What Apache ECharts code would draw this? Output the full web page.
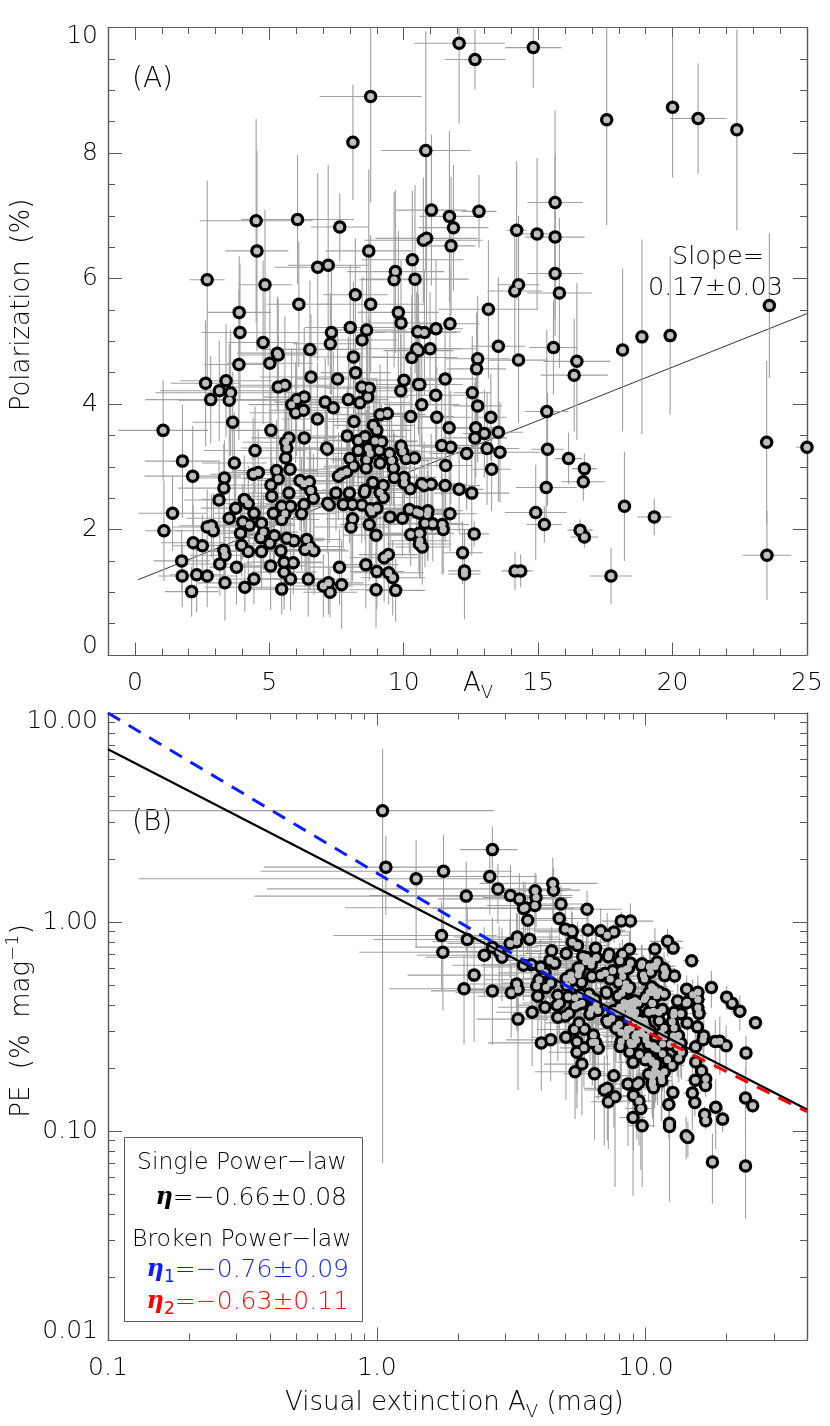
<!DOCTYPE html>
<html><head><meta charset="utf-8">
<style>html,body{margin:0;padding:0;background:#fff}#c{width:830px;height:1426px}</style>
<script src="https://cdn.jsdelivr.net/npm/echarts@6/dist/echarts.min.js"></script>
</head><body><div id="c"></div>
<script>
const avValues=[
2.69,4.51,6.05,7.62,4.54,8.70,8.77,8.11,6.80,7.19,4.84,3.88,3.91,4.77,6.10,8.20,8.77,8.01,8.62,7.31,
7.27,8.45,6.51,5.30,9.69,9.64,10.32,10.42,9.80,9.90,10.48,10.73,10.85,10.52,12.06,12.65,14.82,17.55,20.0,20.95,
22.39,10.82,11.03,11.70,11.85,12.80,11.76,15.63,14.2,14.96,15.63,15.63,15.79,14.27,14.13,13.15,11.72,11.20,10.77,10.98,
13.52,15.57,23.6,18.14,18.86,19.91,12.75,12.71,14.27,16.44,16.34,11.54,12.55,11.19,10.67,10.6,12.75,15.32,11.23,13.24,
11.69,12.68,13.0,13.52,12.65,11.41,11.75,13.10,13.58,12.34,15.35,23.5,25.0,16.13,11.56,13.27,16.72,16.68,15.30,10.67,
11.02,11.54,10.76,12.06,12.53,18.21,14.91,11.72,10.9,10.6,10.88,19.32,15.23,10.79,11.08,11.43,11.47,16.56,16.72,12.62,
10.6,10.6,10.69,12.19,23.51,12.26,12.26,14.14,14.35,17.71,3.87,5.02,5.33,8.13,10.30,10.55,8.21,6.55,7.54,5.33,
5.58,2.63,3.39,3.14,3.56,2.82,3.51,8.44,8.72,10.01,9.89,10.55,5.83,6.02,6.30,5.98,6.27,7.08,7.38,7.94,
8.37,8.66,9.12,9.39,6.79,10.26,8.15,3.64,5.06,1.05,8.87,9.0,5.73,5.61,6.30,7.90,8.56,8.31,8.93,9.18,
5.65,7.13,7.16,4.47,8.31,8.68,8.75,9.09,9.90,9.96,9.47,9.55,10.09,10.40,5.61,1.77,3.70,8.00,8.62,9.12,
8.13,9.62,5.27,5.77,8.60,4.40,4.59,7.88,7.69,7.57,2.15,3.33,5.33,9.65,10.01,6.14,6.49,6.29,10.02,8.85,
5.06,9.24,8.56,3.31,10.24,6.54,8.54,9.12,7.48,7.98,5.73,5.09,6.64,9.24,3.13,4.07,7.17,7.23,6.29,4.22,
7.75,8.09,8.44,5.46,5.79,3.75,8.75,9.0,1.40,4.43,5.15,5.58,6.20,8.81,10.48,10.21,3.51,8.10,9.49,9.95,
5.46,4.01,4.71,4.26,8.72,2.69,2.85,2.92,8.04,1.08,3.93,4.78,5.19,4.68,8.97,10.26,10.57,5.65,5.92,6.39,
5.02,2.17,2.51,3.97,10.58,6.51,3.31,6.33,6.66,4.22,4.71,5.43,3.35,9.43,9.27,1.74,5.55,5.89,3.16,5.05,
8.59,3.78,7.61,5.55,9.0,9.44,1.76,2.30,2.69,9.59,5.79,6.45,4.43,3.35,7.20,7.01,7.69,4.09,5.46,7.26,
2.11,8.97,9.70,25.6];
const polarization=[
5.98,6.92,6.94,6.82,6.44,6.44,8.90,8.17,6.18,6.21,5.90,5.46,5.14,4.98,5.59,5.74,5.59,5.22,5.18,5.14,
4.96,5.02,4.87,4.81,6.11,5.98,6.30,5.99,5.46,5.29,4.88,6.61,6.64,5.15,9.75,9.49,9.68,8.53,8.73,8.55,
8.37,8.04,7.09,6.99,6.81,7.07,6.52,7.21,6.77,6.71,6.66,6.08,5.77,5.90,5.80,5.51,5.28,5.20,5.14,4.88,
4.92,4.90,5.57,4.86,5.07,5.09,4.72,4.56,4.70,4.68,4.46,4.40,4.18,4.14,3.99,4.31,3.97,3.88,3.79,3.79,
3.62,3.62,3.53,3.55,3.46,3.34,3.31,3.29,3.23,3.21,3.28,3.39,3.31,3.13,3.02,2.96,2.97,2.76,2.67,2.73,
2.72,2.70,2.70,2.64,2.58,2.37,2.27,2.25,2.30,2.26,2.24,2.20,2.08,2.10,2.09,2.08,2.00,1.99,1.88,1.93,
1.94,1.82,1.72,1.63,1.59,1.34,1.29,1.34,1.34,1.26,4.63,4.65,4.78,4.75,4.74,4.85,4.50,4.43,4.40,4.27,
4.30,4.33,4.37,4.21,4.18,4.07,4.06,4.27,4.25,4.38,4.21,4.31,3.99,4.07,4.11,3.86,3.90,4.03,3.94,4.07,
4.02,4.11,3.83,3.85,3.76,3.80,3.72,3.71,3.58,3.58,3.66,3.58,3.46,3.39,3.46,3.49,3.48,3.42,3.41,3.40,
3.30,3.30,3.28,3.26,3.26,3.29,3.21,3.26,3.33,3.24,3.21,3.10,3.13,3.14,3.14,3.09,3.06,3.13,3.11,3.06,
3.01,2.98,2.94,2.96,2.98,2.88,2.91,2.92,2.89,2.85,2.85,2.82,2.81,2.83,2.83,2.78,2.76,2.73,2.74,2.75,
2.71,2.70,2.63,2.66,2.65,2.62,2.59,2.59,2.58,2.58,2.58,2.53,2.50,2.51,2.47,2.48,2.42,2.39,2.40,2.41,
2.40,2.40,2.39,2.37,2.37,2.34,2.33,2.34,2.26,2.26,2.26,2.25,2.25,2.28,2.28,2.32,2.18,2.17,2.20,2.18,
2.16,2.12,2.10,2.07,2.08,2.04,2.06,1.98,2.04,1.98,1.94,1.96,1.90,1.87,1.91,1.92,1.94,1.86,1.82,1.84,
1.78,1.79,1.74,1.75,1.77,1.73,1.67,1.68,1.66,1.65,1.65,1.66,1.59,1.60,1.55,1.50,1.48,1.47,1.45,1.42,
1.44,1.40,1.40,1.32,1.33,1.31,1.26,1.28,1.26,1.23,1.21,1.21,1.21,1.15,1.15,1.10,1.12,1.08,1.05,1.00,
1.01,1.04,1.03,8.45];
const avErrors=[
.65,2.1,2.1,1.07,1.17,1.6,1.9,.2,1.6,1.5,1.0,1.18,1.43,1.3,1.2,1.2,2.0,1.7,1.5,2.0,
1.4,1.3,1.8,1.5,1.8,1.3,1.9,2.0,1.5,1.4,2.2,2.2,1.9,1.6,1.69,1.12,1.05,.05,.05,1.04,
.05,1.65,1.3,1.1,1.3,.65,.9,1.03,.37,.9,1.1,1.03,1.2,.78,1.02,1.86,1.1,1.0,1.2,1.2,
1.0,.9,.05,.1,.05,.05,1.2,1.1,1.1,1.24,1.25,1.2,.7,1.1,1.4,1.6,.9,.8,1.3,.6,
1.2,1.0,.8,.9,1.2,1.3,1.1,1.2,1.5,1.4,.6,.1,.4,.5,1.0,.72,.46,.8,1.13,1.5,
1.3,1.3,1.4,.9,1.4,.1,1.15,1.0,1.3,1.5,1.2,.63,.65,1.2,1.1,1.0,1.1,.47,.52,.55,
1.2,1.1,1.0,.75,.91,.6,.6,.5,.45,.79,1.3,1.6,1.4,1.6,1.7,1.3,1.3,1.9,1.5,2.0,
1.7,1.3,1.7,2.2,2.8,2.43,1.9,1.7,1.6,1.4,1.3,1.5,1.6,1.8,1.5,1.7,1.2,1.9,1.4,1.5,
1.9,1.5,1.7,1.2,1.3,1.6,1.4,1.5,1.5,1.67,1.5,1.3,1.4,1.6,1.2,1.9,1.5,1.3,1.6,1.3,
1.7,1.5,1.2,1.9,1.5,1.2,1.4,1.5,1.3,1.6,1.1,1.4,1.5,1.2,1.3,1.4,1.2,1.6,1.3,1.4,
1.1,1.3,1.5,1.4,1.6,1.6,1.4,1.7,1.5,1.2,1.8,1.4,1.3,1.4,1.2,1.6,1.3,1.5,1.5,1.3,
1.6,1.2,1.6,1.7,1.4,1.1,1.3,1.7,1.2,1.4,1.5,1.2,1.7,1.3,1.3,1.6,1.5,1.1,1.4,1.4,
1.6,1.3,1.5,1.7,1.3,1.3,1.4,1.2,1.27,1.5,1.1,1.6,1.3,1.6,1.3,1.4,1.6,1.0,1.3,1.2,
1.4,1.5,1.2,1.7,1.1,1.3,1.2,1.4,1.4,.7,1.2,1.3,1.5,1.4,1.2,1.1,1.3,1.4,1.1,1.3,
1.3,1.2,1.1,1.6,1.2,1.2,1.1,1.5,1.3,1.4,1.2,1.5,1.3,1.1,1.3,1.05,1.4,1.1,1.2,1.3,
1.2,1.0,1.1,1.2,1.0,1.3,.9,1.0,1.1,1.2,1.6,1.5,1.4,1.0,1.3,1.1,1.2,1.5,1.6,1.0,
1.0,1.0,1.1,.1];
const polErrors=[
1.58,1.62,1.03,.54,1.6,1.3,1.68,.92,1.5,1.6,1.2,.9,1.1,1.3,1.0,.9,1.1,1.0,1.2,1.0,
.8,1.0,1.1,.9,1.3,1.4,1.1,1.5,1.3,1.0,.9,1.0,1.4,.9,1.28,.48,.64,1.68,1.12,.88,
1.6,1.9,1.2,1.36,1.0,.58,1.1,1.47,1.1,1.21,1.3,1.0,1.2,1.1,1.0,1.1,.9,1.1,1.0,.9,
1.1,.75,1.15,1.30,1.55,1.26,1.0,.9,1.0,1.25,.9,.9,.9,.8,.9,1.0,.9,1.3,.8,.7,
.9,.8,.7,1.1,.9,.8,.9,.9,.8,.9,.9,1.3,.1,.41,.8,.67,.24,.3,.6,.8,
.8,.9,.7,.7,1.0,.87,.76,.6,.8,.7,.7,.29,.29,.7,.6,.8,.7,.17,.17,.2,
.7,.6,.6,.5,.71,.4,.72,.31,.26,.45,1.2,1.2,.9,1.2,1.0,.9,.8,1.0,.8,.8,
1.1,1.0,.9,.8,1.0,.7,.9,.9,1.1,.8,.9,.8,.9,.9,1.1,.8,1.0,.7,.9,1.0,
.8,.9,.8,1.0,.9,.8,1.0,.8,.7,.8,.7,.8,.9,.8,.7,.8,.7,.9,.8,.6,
.7,.8,.6,.7,.8,.7,.6,.8,.7,.6,.8,.7,.6,.8,.8,.9,.8,.7,.8,.6,
.7,.6,.8,.6,.7,.9,.7,.8,.6,.7,.8,.6,.7,.7,.6,.8,.6,.7,.6,.8,
.6,.7,.8,.7,.6,.7,.6,.7,.6,.8,.7,.6,.7,.6,.6,.7,.8,.6,.7,.6,
.7,.9,.6,.7,.8,.7,.9,.6,.6,.6,.8,.7,.9,.8,.6,.7,.5,1.0,.8,.6,
.7,.6,.7,.5,.9,.6,.5,.6,.9,.8,.5,.6,.5,.6,.9,.5,.6,.7,.5,.6,
.5,.6,.5,.5,.5,.7,.6,.6,.7,.5,.6,.6,.5,.6,.7,.5,.6,.5,.5,.7,
.7,.6,.6,.6,.6,.5,.5,.6,.5,.6,.5,.6,.4,.6,.5,.5,.7,.4,.4,.4,
.4,.6,.5,.5];
const peValues=[
2.22,1.53,1.15,.895,1.42,.74,1.01,1.01,.909,.864,1.22,1.41,1.31,1.04,.916,.70,.637,.652,.601,.703,
.682,.594,.748,.908,.631,.62,.61,.575,.557,.534,.466,.616,.612,.49,.808,.75,.653,.486,.437,.408,
.374,.743,.643,.597,.575,.552,.554,.461,.477,.449,.426,.389,.365,.413,.41,.419,.451,.464,.477,.444,
.364,.315,.236,.268,.269,.256,.37,.359,.329,.285,.273,.381,.333,.37,.374,.407,.311,.253,.337,.286,
.31,.285,.272,.263,.274,.293,.282,.251,.238,.26,.214,.144,.132,.194,.261,.223,.178,.165,.175,.256,
.247,.234,.251,.219,.206,.13,.152,.192,.211,.213,.206,.114,.137,.195,.189,.182,.174,.12,.112,.153,
.183,.172,.161,.134,.068,.109,.105,.095,.093,.071,1.2,.926,.897,.584,.46,.46,.548,.676,.584,.801,
.771,1.65,1.29,1.34,1.17,1.44,1.16,.506,.487,.438,.426,.409,.684,.676,.652,.645,.622,.569,.534,.513,
.48,.475,.42,.41,.554,.37,.456,1.02,.707,3.41,.413,.398,.604,.604,.549,.442,.407,.412,.382,.37,
.584,.463,.458,.729,.392,.379,.367,.359,.336,.325,.339,.325,.31,.302,.56,1.75,.827,.391,.361,.336,
.37,.31,.558,.513,.347,.655,.634,.371,.376,.376,1.33,.847,.527,.293,.283,.453,.425,.434,.273,.311,
.536,.292,.307,.804,.259,.401,.303,.284,.345,.323,.45,.497,.377,.272,.789,.609,.338,.331,.382,.571,
.31,.297,.283,.434,.409,.624,.266,.26,1.61,.51,.439,.403,.363,.259,.218,.227,.621,.268,.232,.219,
.396,.529,.446,.486,.239,.758,.723,.678,.254,1.83,.494,.41,.366,.4,.213,.187,.184,.329,.307,.288,
.355,.825,.693,.441,.167,.266,.505,.265,.249,.391,.35,.306,.475,.17,.167,.862,.267,.25,.459,.281,
.168,.37,.184,.238,.148,.139,.716,.557,.468,.128,.209,.188,.273,.343,.16,.157,.146,.264,.192,.138,
.479,.116,.106,.33];
const peErrors=[
.64,.50,.26,.10,.40,.16,.22,.11,.25,.24,.27,.31,.37,.31,.18,.12,.15,.14,.15,.17,
.13,.13,.20,.22,.15,.15,.12,.155,.14,.11,.10,.11,.14,.09,.12,.05,.05,.097,.057,.043,
.071,.19,.115,.12,.09,.05,.097,.094,.078,.082,.086,.064,.077,.08,.072,.088,.08,.10,.095,.083,
.082,.05,.049,.072,.083,.064,.08,.073,.07,.077,.055,.08,.073,.073,.09,.10,.07,.085,.073,.052,
.079,.064,.055,.082,.073,.072,.078,.07,.061,.074,.059,.055,.01,.026,.07,.052,.015,.019,.04,.077,
.074,.078,.067,.06,.08,.048,.051,.052,.074,.068,.065,.015,.019,.066,.056,.07,.062,.011,.01,.016,
.067,.057,.057,.042,.03,.033,.059,.022,.018,.026,.37,.28,.21,.16,.105,.09,.11,.18,.12,.21,
.23,.56,.42,.53,.38,.46,.40,.117,.135,.085,.095,.083,.185,.18,.19,.16,.17,.125,.13,.135,
.11,.11,.097,.11,.14,.083,.13,.31,.18,3.34,.085,.092,.175,.17,.12,.115,.09,.112,.095,.072,
.15,.12,.09,.22,.104,.084,.075,.094,.074,.067,.087,.078,.063,.078,.157,.86,.25,.094,.098,.072,
.089,.066,.17,.12,.086,.235,.18,.108,.087,.099,.61,.25,.147,.076,.062,.145,.103,.124,.063,.093,
.145,.078,.097,.30,.062,.113,.074,.081,.084,.104,.135,.134,.116,.068,.25,.21,.117,.087,.118,.17,
.095,.115,.075,.148,.146,.215,.106,.07,.86,.163,.16,.137,.15,.094,.059,.07,.20,.124,.085,.063,
.138,.18,.158,.15,.104,.29,.23,.26,.114,.75,.148,.14,.108,.14,.10,.05,.057,.13,.088,.098,
.11,.36,.25,.155,.048,.11,.20,.10,.108,.135,.135,.118,.175,.065,.076,.39,.115,.088,.18,.14,
.083,.166,.08,.11,.067,.054,.34,.29,.21,.063,.09,.097,.10,.186,.07,.072,.092,.108,.078,.056,
.22,.067,.052,.02];

const fitA={x:[0.12,25],y:[1.20,5.44]};
const singleFit={x:[0.1,39.8],y:[6.7,0.1266]};
const brokenFit1={x:[0.1,8.6],y:[10.0,0.33]};
const brokenFit2={x:[8.6,39.8],y:[0.33,0.1236]};
const xTicksA=[0,5,10,15,20,25], xMinorA=[1,2,3,4,6,7,8,9,11,12,13,14,16,17,18,19,21,22,23,24];
const yTicksA=[0,2,4,6,8,10], yMinorA=[.5,1,1.5,2.5,3,3.5,4.5,5,5.5,6.5,7,7.5,8.5,9,9.5];
const xTicksB=[0.1,1,10], xMinorB=[.2,.3,.4,.5,.6,.7,.8,.9,2,3,4,5,6,7,8,9,20,30];
const yTicksB=[0.01,0.1,1,10], yMinorB=[.02,.03,.04,.05,.06,.07,.08,.09,.2,.3,.4,.5,.6,.7,.8,.9,2,3,4,5,6,7,8,9];

const FF='DejaVu Sans', FW=200, TC='#000', FRAME='#5a5a5a';
function axes(kind,type,grid,min,max,majors,minors,fmt,majLen,minLen){
  const base={type,gridIndex:grid,min,max,splitLine:{show:false},minorTick:{show:false},silent:true};
  if(type==='log')base.logBase=10;
  const sides=kind==='x'?['bottom','top']:['left','right'];
  const out=[];
  sides.forEach((position,s)=>{
    out.push(Object.assign({},base,{position,
      axisLine:{show:true,onZero:false,lineStyle:{color:FRAME,width:kind==='y'?1.4:1}},
      axisTick:{show:true,inside:true,length:majLen,customValues:majors,lineStyle:{color:FRAME,width:1}},
      axisLabel:s===0?{show:true,customValues:majors,formatter:fmt,fontFamily:FF,fontWeight:FW,fontSize:25,color:TC,lineHeight:17,
        margin:kind==='x'?20:10,showMinLabel:true,showMaxLabel:true,
        verticalAlignMinLabel:kind==='y'?'bottom':undefined,verticalAlignMaxLabel:kind==='y'?'top':undefined}:{show:false}}));
    out.push(Object.assign({},base,{position,axisLine:{show:false,onZero:false},
      axisTick:{show:true,inside:true,length:minLen,customValues:minors,lineStyle:{color:FRAME,width:1}},
      axisLabel:{show:false}}));
  });
  return out;
}
const xAxisList=[...axes('x','value',0,-1,25,xTicksA,xMinorA,v=>String(v),12.5,6.5),
                 ...axes('x','log',1,0.1,39.8,xTicksB,xMinorB,v=>Number(v).toFixed(1),12.5,6.5)];
const yAxisList=[...axes('y','value',0,0,10,yTicksA,yMinorA,v=>String(v),14,7),
                 ...axes('y','log',1,0.01,10,yTicksB,yMinorB,v=>Number(v).toFixed(2),14,7)];

const rowsA=avValues.map((a,i)=>[a,polarization[i],avErrors[i],polErrors[i]]);
const rowsB=avValues.map((a,i)=>[a,peValues[i],avErrors[i],peErrors[i]]);
function errorBars(xMin,yMin){
  return function(params,api){
    const x=api.value(0),y=api.value(1),dx=api.value(2),dy=api.value(3);
    const style={stroke:'#a0a0a0',lineWidth:1.1,fill:null};
    const a=api.coord([Math.max(x-dx,xMin),y]),b=api.coord([x+dx,y]);
    const c=api.coord([x,Math.max(y-dy,yMin)]),d=api.coord([x,y+dy]);
    return {type:'group',children:[
      {type:'line',shape:{x1:a[0],y1:a[1],x2:b[0],y2:b[1]},style},
      {type:'line',shape:{x1:c[0],y1:c[1],x2:d[0],y2:d[1]},style}]};
  };
}
function zip(xs,ys){return xs.map((v,i)=>[v,ys[i]]);}
function panel(idx,rows,xMin,yMin){
  const ax=idx*4;
  return [
    {type:'custom',name:'errors',xAxisIndex:ax,yAxisIndex:ax,clip:true,z:3,silent:true,
     data:rows,encode:{x:0,y:1},renderItem:errorBars(xMin,yMin)},
    {type:'scatter',name:'ring',xAxisIndex:ax,yAxisIndex:ax,z:4,clip:true,silent:true,symbolSize:13.5,
     itemStyle:{color:'#000',opacity:1},data:rows.map(r=>[r[0],r[1]])},
    {type:'scatter',name:'fill',xAxisIndex:ax,yAxisIndex:ax,z:5,clip:true,silent:true,symbolSize:7,
     itemStyle:{color:'#bebebe',opacity:1},data:rows.map(r=>[r[0],r[1]])}
  ];
}
function line(idx,f,color,width,dash,z){
  return {type:'line',xAxisIndex:idx*4,yAxisIndex:idx*4,data:zip(f.x,f.y),symbol:'none',z,silent:true,clip:true,
    lineStyle:{color,width,type:dash||'solid'}};
}
const tx=(text,x,y,extra)=>({type:'text',x,y,silent:true,style:Object.assign({text,fontFamily:FF,fontWeight:FW,fontSize:25.5,fill:TC,align:'left',verticalAlign:'middle'},extra||{})});
const T={fontFamily:FF,fontWeight:FW,fontSize:26,fill:TC};
const SUB={fontFamily:FF,fontWeight:FW,fontSize:18,fill:TC,padding:[18,0,0,0]};
const SUP={fontFamily:FF,fontWeight:FW,fontSize:18,fill:TC,padding:[0,0,18,0]};
const etaRich=c=>({e:{fontFamily:'DejaVu Serif',fontStyle:'italic',fontWeight:'bold',fontSize:24,fill:c},
  s:{fontFamily:FF,fontSize:17,fill:c,padding:[16,0,0,0]},
  t:{fontFamily:FF,fontWeight:FW,fontSize:25,fill:c}});
const option={
  animation:false,backgroundColor:'#fff',
  grid:[{left:108,top:27.5,width:699,height:627.5},{left:108,top:713,width:699,height:627}],
  xAxis:xAxisList,yAxis:yAxisList,
  series:[line(0,fitA,'#333',1,null,2),...panel(0,rowsA,-1,0),...panel(1,rowsB,0.1,0.01),
    line(1,singleFit,'#000',2.2,null,6),
    line(1,brokenFit1,'#0a1eff',3,[14,10],7),
    line(1,brokenFit2,'#ff0000',3,[14,10],7)],
  graphic:[
    tx('(A)',132,80,{fontSize:28}),tx('(B)',132,823,{fontSize:28}),
    tx('Slope=',672,257),tx('0.17±0.03',648,288),
    {type:'text',x:463,y:684,silent:true,style:{text:'{a|A}{b|V}',rich:{a:T,b:SUB},verticalAlign:'middle'}},
    {type:'text',x:22,y:305,rotation:Math.PI/2,silent:true,style:{text:'Polarization  (%)',fontFamily:FF,fontWeight:FW,fontSize:26,fill:TC,align:'center',verticalAlign:'middle'}},
    {type:'text',x:22,y:1021,rotation:Math.PI/2,silent:true,style:{text:'{t|PE  (%  mag}{u|−1}{t|)}',rich:{t:T,u:SUP},align:'center',verticalAlign:'middle'}},
    {type:'text',x:285,y:1403,silent:true,style:{text:'{t|Visual extinction A}{b|V}{t| (mag)}',rich:{t:T,b:SUB},verticalAlign:'middle'}},
    {type:'rect',silent:true,shape:{x:124.5,y:1137.5,width:238,height:184},style:{fill:'#fff',stroke:FRAME,lineWidth:1},z:20},
    Object.assign(tx('Single Power−law',137,1163,{fontSize:23.5}),{z:21}),
    {type:'text',x:347,y:1198,silent:true,z:21,style:{text:'{e|η}{t|=−0.66±0.08}',rich:etaRich('#000'),align:'right',verticalAlign:'middle'}},
    Object.assign(tx('Broken Power−law',132,1240,{fontSize:23.5}),{z:21}),
    {type:'text',x:349,y:1270,silent:true,z:21,style:{text:'{e|η}{s|1}{t|=−0.76±0.09}',rich:etaRich('#0a1eff'),align:'right',verticalAlign:'middle'}},
    {type:'text',x:349,y:1302,silent:true,z:21,style:{text:'{e|η}{s|2}{t|=−0.63±0.11}',rich:etaRich('#ff0000'),align:'right',verticalAlign:'middle'}}
  ]
};
echarts.init(document.getElementById('c'),null,{renderer:'canvas'}).setOption(option);
</script></body></html>
